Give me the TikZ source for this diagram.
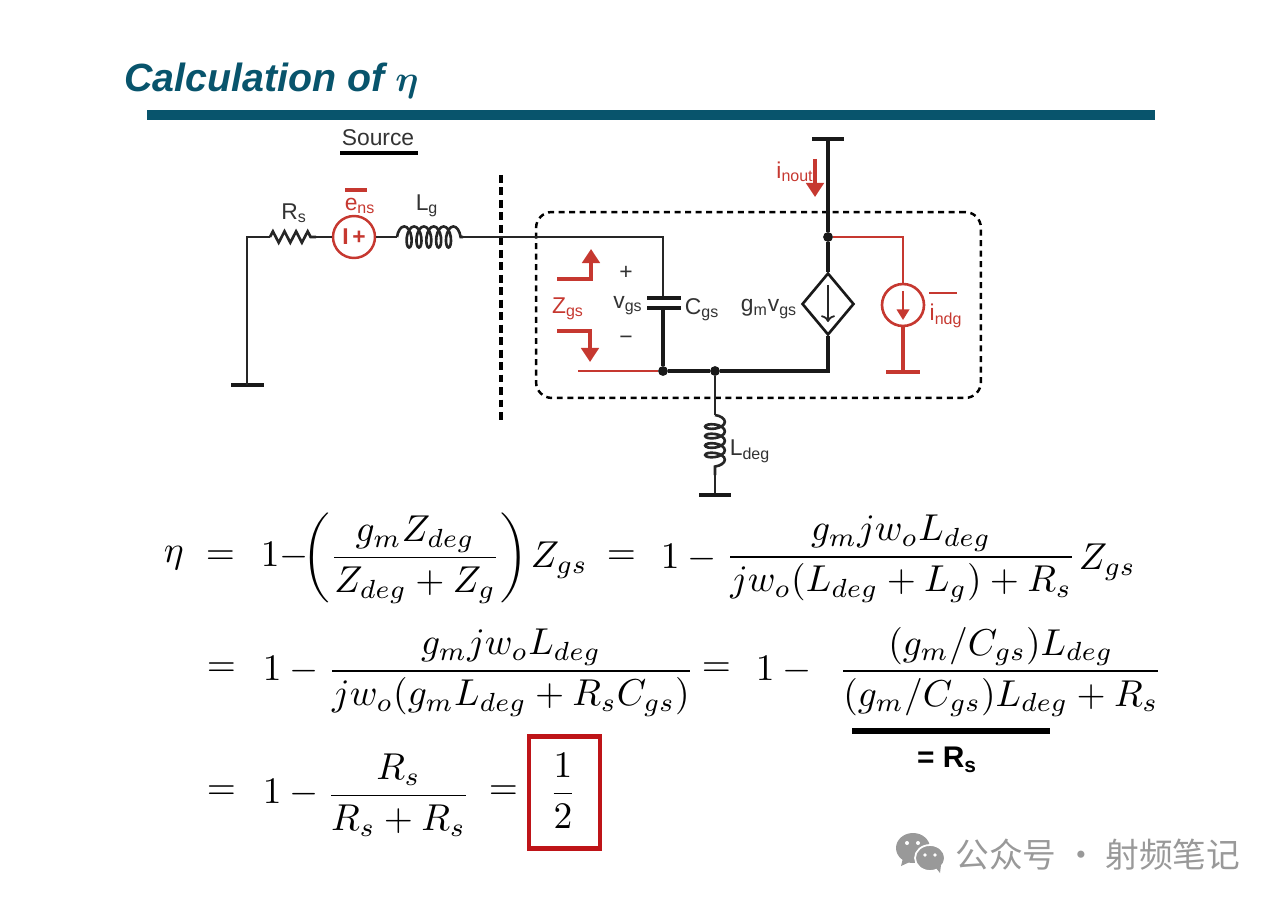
\documentclass[tikz,border=0pt]{standalone}
\usepackage{amsmath}
\usepackage{fontspec}
\setmainfont{Liberation Sans}
\newfontfamily\cjk{Noto Sans CJK SC}
\usetikzlibrary{arrows.meta,decorations.pathmorphing,shapes.geometric}
\definecolor{titleteal}{RGB}{8,84,108}
\definecolor{ckred}{RGB}{198,56,48}
\definecolor{boxred}{RGB}{190,20,24}
\tikzstyle{wire}=[line width=1.3pt,black!85]
\tikzstyle{fatwire}=[line width=2.4pt,black!90]
\tikzstyle{redwire}=[line width=1.5pt,ckred]
\tikzstyle{junction}=[circle,fill=black!90,minimum size=5.6pt,inner sep=0pt]
\tikzstyle{lab}=[inner sep=0pt,font=\fontsize{13}{15}\selectfont,black!80]
\tikzstyle{redlab}=[lab,ckred]
\tikzstyle{eqn}=[anchor=west,inner sep=0pt,scale=2.13]
\tikzstyle{fatarrow}=[line width=1.8pt,ckred,-{Triangle[length=8pt,width=10pt]}]
\begin{document}
\begin{tikzpicture}[x=0.02cm,y=-0.02cm]
\useasboundingbox (0,0) rectangle (1280,905);
% title
\node[anchor=west,inner sep=0pt,text=titleteal,font=\fontsize{22.4}{26}\selectfont\bfseries\itshape] (title) at (124,81) {Calculation of $\boldsymbol{\eta}$};
\coordinate (ruleL) at (147,115);
\coordinate (ruleR) at (1155,115);
\draw[line width=5.8pt,titleteal] (ruleL) -- (ruleR);
% source side
\node[lab] (source) at (378,138) {Source};
\coordinate (srcL) at (340,153);
\coordinate (srcR) at (418,153);
\draw[line width=2pt,black] (srcL) -- (srcR);
\coordinate (gndLA) at (231,385);
\coordinate (gndLB) at (264,385);
\coordinate (gndL) at (247,385);
\coordinate (rsL) at (270,237);
\coordinate (rsR) at (316,237);
\coordinate (lgL) at (397,237);
\coordinate (lgR) at (463,237);
\node[circle,draw=ckred,line width=1.4pt,minimum size=23.9pt,inner sep=0pt,text=ckred,font=\fontsize{13}{13}\selectfont\bfseries] (ens) at (354,237) {I\,+};
\draw[fatwire] (gndLA) -- (gndLB);
\draw[wire,line width=1.6pt] (gndL) |- (rsL);
\draw[wire,line width=1.5pt,decorate,decoration={zigzag,amplitude=3.2pt,segment length=6.6pt}] (rsL) -- (rsR);
\draw[wire] (rsR) -- (ens);
\draw[wire] (ens) -- (lgL);
\draw[wire,line width=1.5pt,decorate,decoration={coil,amplitude=6pt,segment length=5.6pt,aspect=0.45}] (lgL) -- (lgR);
\node[lab] (rs) at (294,213) {R\textsubscript{s}};
\node[redlab] (ensl) at (360,206) {e\textsubscript{ns}};
\coordinate (ensbarL) at (345,190);
\coordinate (ensbarR) at (367,190);
\draw[redwire,line width=1.8pt] (ensbarL) -- (ensbarR);
\node[lab] (lg) at (427,206) {L\textsubscript{g}};
% separator and device box
\coordinate (sepT) at (501,175);
\coordinate (sepB) at (501,420);
\draw[line width=1.8pt,black,dash pattern=on 4.5pt off 2.6pt] (sepT) -- (sepB);
\node[draw=black,line width=1.4pt,dash pattern=on 3.4pt off 2.6pt,rounded corners=9pt,minimum width=253.2pt,minimum height=105.8pt,inner sep=0pt] (devbox) at (758.5,305) {};
% gate and capacitor
\coordinate (capT) at (663,298);
\coordinate (capB) at (663,308);
\coordinate (capTL) at (647,298);
\coordinate (capTR) at (681,298);
\coordinate (capBL) at (647,308);
\coordinate (capBR) at (681,308);
\node[junction] (ns) at (663,371) {};
\node[junction] (nd) at (715,371) {};
\node[junction] (no) at (828,237) {};
\draw[wire] (lgR) -- (663,237) -- (capT);
\draw[fatwire] (capTL) -- (capTR);
\draw[fatwire] (capBL) -- (capBR);
\draw[fatwire] (capB) -- (ns);
\draw[fatwire] (ns) -- (nd);
% dependent source
\node[diamond,draw=black!90,line width=1.5pt,aspect=0.84,minimum width=29.6pt,minimum height=35.3pt,inner sep=0pt] (gm) at (828,304) {};
\coordinate (gmT) at (828,285);
\coordinate (gmB) at (828,322);
\draw[line width=1pt,black!85,->] (gmT) -- (gmB);
\coordinate (gmC) at (828,371);
\draw[fatwire] (nd) -- (gmC) -- (gm);
\coordinate (vdd) at (828,139);
\coordinate (vddL) at (812,139);
\coordinate (vddR) at (844,139);
\draw[fatwire] (vddL) -- (vddR);
\draw[fatwire] (vdd) -- (no);
\draw[fatwire] (no) -- (gm);
% noise source
\node[circle,draw=ckred,line width=1.5pt,minimum size=23.9pt,inner sep=0pt] (indg) at (903,305) {};
\coordinate (indgT) at (903,291);
\coordinate (indgB) at (903,320);
\draw[line width=1.4pt,ckred,-{Triangle[length=6pt,width=7pt]}] (indgT) -- (indgB);
\coordinate (indgC) at (903,237);
\draw[redwire] (no) -- (indgC) -- (indg);
\coordinate (gndR) at (903,372);
\coordinate (gndRL) at (886,372);
\coordinate (gndRR) at (920,372);
\draw[redwire,line width=1.8pt] (indg) -- (gndR);
\draw[redwire,line width=2pt] (gndRL) -- (gndRR);
\coordinate (inL) at (578,371);
\draw[redwire,line width=1.6pt] (inL) -- (ns);
% degeneration
\coordinate (ldT) at (715,415);
\coordinate (ldB) at (715,475);
\coordinate (gndD) at (715,495);
\coordinate (gndDL) at (699,495);
\coordinate (gndDR) at (731,495);
\draw[wire] (nd) -- (ldT);
\draw[wire,line width=1.5pt,decorate,decoration={coil,amplitude=5.6pt,segment length=5.4pt,aspect=0.45}] (ldT) -- (ldB);
\draw[wire] (ldB) -- (gndD);
\draw[fatwire] (gndDL) -- (gndDR);
% red arrows
\coordinate (zuA) at (557,279);
\coordinate (zuB) at (591,279);
\coordinate (zuC) at (591,249);
\coordinate (zdA) at (557,331);
\coordinate (zdB) at (590,331);
\coordinate (zdC) at (590,362);
\draw[fatarrow] (zuA) -- (zuB) -- (zuC);
\draw[fatarrow] (zdA) -- (zdB) -- (zdC);
\coordinate (ioT) at (815,159);
\coordinate (ioB) at (815,197);
\draw[fatarrow] (ioT) -- (ioB);
% circuit labels
\node[lab] (plus) at (626,273) {+};
\node[lab] (minus) at (626,340) {−};
\node[lab] (vgs) at (628,306) {v\textsubscript{gs}};
\node[lab] (cgs) at (702,310) {C\textsubscript{gs}};
\node[lab] (gmv) at (769,309) {g\textsubscript{m}v\textsubscript{gs}};
\node[redlab] (zgs) at (568,309) {Z\textsubscript{gs}};
\node[redlab] (inout) at (795,172) {i\textsubscript{nout}};
\node[redlab] (indgl) at (946,316) {i\textsubscript{ndg}};
\coordinate (indbarL) at (929,293);
\coordinate (indbarR) at (957,293);
\draw[redwire,line width=1.6pt] (indbarL) -- (indbarR);
\node[lab] (ldeg) at (750,451) {L\textsubscript{deg}};
% first line
\node[eqn] (etaA) at (163,558) {$\eta$};
\node[eqn] (eqA) at (205,558) {$=$};
\node[eqn] (frA) at (260,558) {$1{-}\!\!\left(\dfrac{g_m Z_{deg}}{Z_{deg}+Z_g}\right)$};
\node[eqn] (zgA) at (530,560) {$Z_{gs}$};
\node[eqn] (eqB) at (606,558) {$=$};
\node[eqn] (oneA) at (660,558) {$1-{}$};
\node[eqn] (frB) at (725,559) {$\dfrac{g_m jw_o L_{deg}}{jw_o(L_{deg}+L_g)+R_s}$};
\node[eqn] (zgB) at (1078,562) {$Z_{gs}$};
% second line
\node[eqn] (eqC) at (206,670) {$=$};
\node[eqn] (oneB) at (262,670) {$1-{}$};
\node[eqn] (frC) at (327,673) {$\dfrac{g_m jw_o L_{deg}}{jw_o(g_m L_{deg}+R_sC_{gs})}$};
\node[eqn] (eqD) at (701,670) {$=$};
\node[eqn] (oneC) at (755,670) {$1-{}$};
\node[eqn] (frD) at (838,672) {$\dfrac{(g_m/C_{gs})L_{deg}}{(g_m/C_{gs})L_{deg}+R_s}$};
\coordinate (barL) at (852,731);
\coordinate (barR) at (1050,731);
\draw[line width=3.6pt,black] (barL) -- (barR);
\node[inner sep=0pt,font=\fontsize{17}{19}\selectfont\bfseries] (rsnote) at (947,760) {= R\textsubscript{s}};
% third line
\node[eqn] (eqE) at (206,793) {$=$};
\node[eqn] (oneD) at (262,793) {$1-{}$};
\node[eqn] (frE) at (326,795) {$\dfrac{R_s}{R_s+R_s}$};
\node[eqn] (eqF) at (488,793) {$=$};
\node[eqn,anchor=center] (half) at (563,791) {$\dfrac{1}{2}$};
\node[draw=boxred,line width=2.4pt,minimum width=40.4pt,minimum height=63.7pt,inner sep=0pt] (halfbox) at (564.5,792.5) {};
% watermark
\fill[black!40] (913,848) ellipse (17 and 15);
\fill[black!40] (903,858) -- (901,866) -- (912,861) -- cycle;
\fill[black!40,draw=white,line width=1pt] (930,858) ellipse (15 and 13);
\fill[black!40] (936,868) -- (940,873) -- (941,865) -- cycle;
\fill[white] (907,843) circle (2) (918,843) circle (2) (925,855) circle (1.8) (935,855) circle (1.8);
\node[anchor=west,inner sep=0pt,text=black!40,font=\fontsize{19.2}{22}\cjk] (mark) at (955,855) {公众号 · 射频笔记};
\end{tikzpicture}
\end{document}
